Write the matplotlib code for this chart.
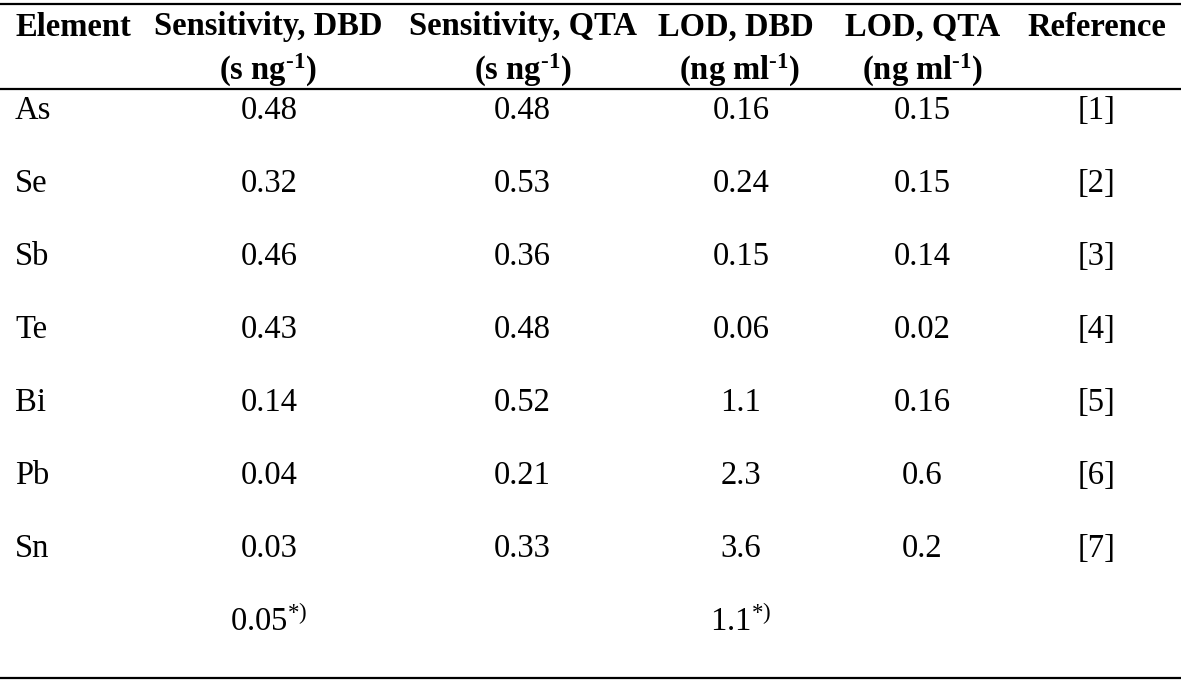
import matplotlib
matplotlib.use("Agg")
import matplotlib.pyplot as plt

plt.rcParams["font.family"] = ["Liberation Serif", "DejaVu Serif"]
plt.rcParams["mathtext.fontset"] = "custom"
plt.rcParams["mathtext.rm"] = "Liberation Serif"
plt.rcParams["mathtext.it"] = "Liberation Serif:italic"
plt.rcParams["mathtext.bf"] = "Liberation Serif:bold"

# ── données du tableau ──────────────────────────────────────────────
headers1 = ["Element", "Sensitivity, DBD", "Sensitivity, QTA",
            "LOD, DBD", "LOD, QTA", "Reference"]
headers2 = ["", r"(s ng$^{\mathbf{\text{-}1}}$)", r"(s ng$^{\mathbf{\text{-}1}}$)",
            r"(ng ml$^{\mathbf{\text{-}1}}$)", r"(ng ml$^{\mathbf{\text{-}1}}$)", ""]
elements = ["As", "Se", "Sb", "Te", "Bi", "Pb", "Sn", ""]
sens_dbd = ["0.48", "0.32", "0.46", "0.43", "0.14", "0.04", "0.03",
            r"0.05$^{\mathrm{*)}}$"]
sens_qta = ["0.48", "0.53", "0.36", "0.48", "0.52", "0.21", "0.33", ""]
lod_dbd = ["0.16", "0.24", "0.15", "0.06", "1.1", "2.3", "3.6",
           r"1.1$^{\mathrm{*)}}$"]
lod_qta = ["0.15", "0.15", "0.14", "0.02", "0.16", "0.6", "0.2", ""]
refs = ["[1]", "[2]", "[3]", "[4]", "[5]", "[6]", "[7]", ""]

W, H = 1181, 683
fig = plt.figure(figsize=(W / 100, H / 100), dpi=100)
ax = fig.add_axes([0, 0, 1, 1])
ax.set_xlim(0, W); ax.set_ylim(H, 0); ax.axis("off")

fs = 23.5
head_x = [15, 268, 523, 736, 923, 1097]
cell_x = [15, 269, 522, 741, 922, 1097]
col_ha = ["left", "center", "center", "center", "center", "center"]

for x, ha, h1, h2 in zip(head_x, col_ha, headers1, headers2):
    ax.text(x, 27, h1, ha=ha, va="center", fontsize=fs, weight="bold")
    if h2:
        ax.text(x + (4 if x == 736 else 0), 70, h2, ha=ha, va="center",
                fontsize=fs, weight="bold")

columns = [elements, sens_dbd, sens_qta, lod_dbd, lod_qta, refs]
row_y0, row_dy = 111, 73
for x, ha, col in zip(cell_x, col_ha, columns):
    for i, val in enumerate(col):
        if val:
            ax.text(x, row_y0 + i * row_dy, val, ha=ha, va="center", fontsize=fs)

for y in (4, 89, 678):
    ax.plot([0, W], [y, y], color="black", lw=1.6)

fig.savefig("out.png", dpi=100)
